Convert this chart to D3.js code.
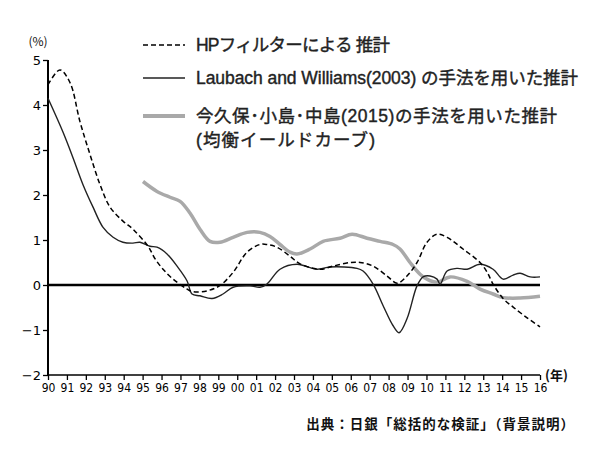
<!DOCTYPE html>
<html>
<head>
<meta charset="utf-8">
<script src="https://cdn.jsdelivr.net/npm/d3@7"></script>
<style>
  body { margin: 0; background: #fff; }
  svg { display: block; }
  .x-axis .tick text { font-family: "DejaVu Sans Condensed", "DejaVu Sans", sans-serif; font-stretch: condensed; font-size: 12px; fill: #000; }
  .y-axis .tick text { font-family: "DejaVu Sans", sans-serif; font-size: 13px; fill: #000; }
  .legend text { font-family: "Liberation Sans", "Noto Sans CJK JP", sans-serif; fill: #222; stroke: #222; stroke-width: 0.4px; }
  .note { font-family: "Noto Sans CJK JP", sans-serif; fill: #111; }
</style>
</head>
<body>
<div id="chart"></div>
<script>
// HPフィルター (dashed)
const hpYears = [1990.0, 1990.63, 1991.16, 1991.69, 1992.22, 1992.75, 1993.28, 1993.96, 1994.49, 1995.29, 1995.66, 1996.08, 1996.61, 1997.35, 1997.66, 1998.4, 1999.09, 1999.78, 2000.52, 2001.2, 2001.57, 2002.1, 2002.79, 2003.32, 2004.38, 2005.06, 2005.96, 2006.49, 2007.18, 2007.92, 2008.45, 2008.97, 2009.5, 2010.03, 2010.56, 2011.09, 2011.93, 2012.83, 2013.2, 2013.52, 2014.05, 2014.58, 2015.32, 2016.0];
const hpValues = [4.45, 4.78, 4.5, 3.63, 2.9, 2.23, 1.73, 1.42, 1.24, 0.86, 0.58, 0.35, 0.13, -0.09, -0.15, -0.13, -0.01, 0.28, 0.73, 0.9, 0.9, 0.84, 0.64, 0.47, 0.35, 0.42, 0.5, 0.5, 0.42, 0.2, 0.04, 0.2, 0.5, 0.95, 1.13, 1.06, 0.8, 0.5, 0.29, 0.02, -0.3, -0.49, -0.73, -0.93];

// Laubach and Williams(2003) (solid)
const lwYears = [1990.0, 1990.79, 1991.32, 1991.85, 1992.38, 1992.91, 1993.44, 1993.96, 1994.49, 1994.86, 1995.39, 1995.76, 1996.29, 1996.82, 1997.35, 1997.61, 1998.03, 1998.67, 1999.25, 1999.78, 2000.68, 2001.2, 2001.57, 2002.26, 2003.16, 2004.22, 2004.9, 2006.33, 2006.65, 2007.18, 2007.71, 2008.23, 2008.55, 2008.97, 2009.5, 2009.82, 2010.19, 2010.56, 2010.72, 2011.09, 2011.62, 2012.15, 2012.83, 2013.52, 2014.05, 2014.58, 2014.95, 2015.48, 2016.0];
const lwValues = [4.15, 3.4, 2.83, 2.23, 1.73, 1.28, 1.06, 0.95, 0.93, 0.95, 0.86, 0.84, 0.69, 0.42, 0.09, -0.2, -0.24, -0.3, -0.2, -0.05, -0.02, -0.05, 0.02, 0.35, 0.46, 0.35, 0.4, 0.37, 0.31, 0.02, -0.46, -0.9, -1.06, -0.75, -0.02, 0.18, 0.2, 0.13, 0.02, 0.31, 0.37, 0.35, 0.46, 0.35, 0.13, 0.22, 0.26, 0.18, 0.18];

// 今久保・小島・中島(2015) (gray)
const ikYears = [1995.02, 1995.76, 1996.45, 1996.98, 1997.5, 1998.03, 1998.56, 1999.09, 1999.78, 2000.52, 2001.2, 2001.73, 2002.26, 2002.79, 2003.16, 2003.85, 2004.54, 2005.43, 2006.07, 2006.86, 2007.55, 2008.23, 2008.6, 2009.13, 2009.66, 2010.03, 2010.56, 2011.25, 2012.15, 2012.83, 2013.52, 2014.05, 2014.95, 2016.0];
const ikValues = [2.3, 2.08, 1.95, 1.86, 1.6, 1.24, 0.97, 0.95, 1.06, 1.17, 1.17, 1.08, 0.9, 0.73, 0.69, 0.8, 0.97, 1.04, 1.13, 1.04, 0.97, 0.9, 0.8, 0.5, 0.24, 0.13, 0.06, 0.18, 0.08, -0.09, -0.2, -0.28, -0.29, -0.25];

const xTickYears = d3.range(1990, 2017);
const xTickLabels = ["90","91","92","93","94","95","96","97","98","99","00","01","02","03","04","05","06","07","08","09","10","11","12","13","14","15","16"];
const yTicks = [-2, -1, 0, 1, 2, 3, 4, 5];

const legendLabels = [
  ["HPフィルターによる 推計"],
  ["Laubach and Williams(2003) の手法を用いた推計"],
  ["今久保･小島･中島(2015)の手法を用いた推計", "(均衡イールドカーブ)"]
];
// rendered width of each legend line
const legendWidths = [
  [194],
  [382],
  [361, 179]
];

const margin = { top: 60, right: 60, bottom: 85, left: 48 };
const width = 600 - margin.left - margin.right,
      height = 460 - margin.top - margin.bottom;

const svg = d3.select("#chart").append("svg")
    .attr("width", 600)
    .attr("height", 460);

const g = svg.append("g")
    .attr("transform", "translate(" + margin.left + "," + margin.top + ")");

const xScale = d3.scaleLinear().domain([1990, 2016]).range([0, width]);
const yScale = d3.scaleLinear().domain([-2, 5]).range([height, 0]);

// axes
const xAxis = d3.axisBottom(xScale)
    .tickValues(xTickYears)
    .tickFormat((d, i) => xTickLabels[i])
    .tickSize(5)
    .tickPadding(3);

const yAxis = d3.axisLeft(yScale)
    .tickValues(yTicks)
    .tickFormat(d3.format("d"))
    .tickSize(5)
    .tickPadding(2);

g.append("g")
    .attr("class", "axis x-axis")
    .attr("transform", `translate(0, ${height})`)
    .call(xAxis)
    .call(a => a.select(".domain").attr("stroke", "#000").attr("stroke-width", 1.6).attr("d", `M0,0H${width}`))
    .call(a => a.selectAll(".tick line").attr("stroke-width", 1.3));

g.append("g")
    .attr("class", "axis y-axis")
    .call(yAxis)
    .call(a => a.select(".domain").attr("stroke", "#000").attr("stroke-width", 2).attr("d", `M0,${height}V0`))
    .call(a => a.selectAll(".tick line").attr("stroke-width", 1.3));

// zero line
g.append("line")
    .attr("x1", 0).attr("x2", width)
    .attr("y1", yScale(0)).attr("y2", yScale(0))
    .attr("stroke", "#000")
    .attr("stroke-width", 2.6);

// unit labels
g.append("text")
    .attr("class", "note")
    .attr("x", -10).attr("y", -14)
    .attr("text-anchor", "middle")
    .style("font-size", "12px")
    .text("(%)");

g.append("text")
    .attr("class", "note")
    .attr("x", width + 5).attr("y", height + 5)
    .style("font-size", "13px")
    .style("font-weight", "bold")
    .text("(年)");

const line = d3.line()
    .x(d => xScale(d[0]))
    .y(d => yScale(d[1]))
    .curve(d3.curveCatmullRom.alpha(0.5));

const series = [
  { years: ikYears, values: ikValues, stroke: "#a9a9a9", width: 3.5, dash: null },
  { years: lwYears, values: lwValues, stroke: "#222", width: 1.4, dash: null },
  { years: hpYears, values: hpValues, stroke: "#000", width: 1.5, dash: "5,3" }
];

g.selectAll(".series")
    .data(series)
    .enter()
    .append("path")
    .attr("class", "series")
    .attr("fill", "none")
    .attr("stroke", d => d.stroke)
    .attr("stroke-width", d => d.width)
    .attr("stroke-dasharray", d => d.dash)
    .attr("d", d => line(d.years.map((y, i) => [y, d.values[i]])));

// legend
const legendStyles = [
  { stroke: "#000", width: 1.6, dash: "5,3", y: 45 },
  { stroke: "#222", width: 1.6, dash: null, y: 78 },
  { stroke: "#a9a9a9", width: 4, dash: null, y: 116 }
];

const legend = svg.append("g").attr("class", "legend");

legendStyles.forEach((s, i) => {
  legend.append("line")
      .attr("x1", 143).attr("x2", 185)
      .attr("y1", s.y).attr("y2", s.y)
      .attr("stroke", s.stroke)
      .attr("stroke-width", s.width)
      .attr("stroke-dasharray", s.dash);

  legendLabels[i].forEach((t, j) => {
    legend.append("text")
        .attr("x", 196)
        .attr("y", s.y + j * 24)
        .attr("dy", "0.36em")
        .attr("textLength", legendWidths[i][j])
        .attr("lengthAdjust", "spacing")
        .style("font-size", "17.5px")
        .text(t);
  });
});

// source note
svg.append("text")
    .attr("class", "note")
    .attr("x", 575).attr("y", 424)
    .attr("dy", "0.36em")
    .attr("text-anchor", "end")
    .style("font-size", "13.5px")
    .style("font-weight", "bold")
    .style("letter-spacing", "1px")
    .text("出典：日銀「総括的な検証」（背景説明）");
</script>
</body>
</html>
